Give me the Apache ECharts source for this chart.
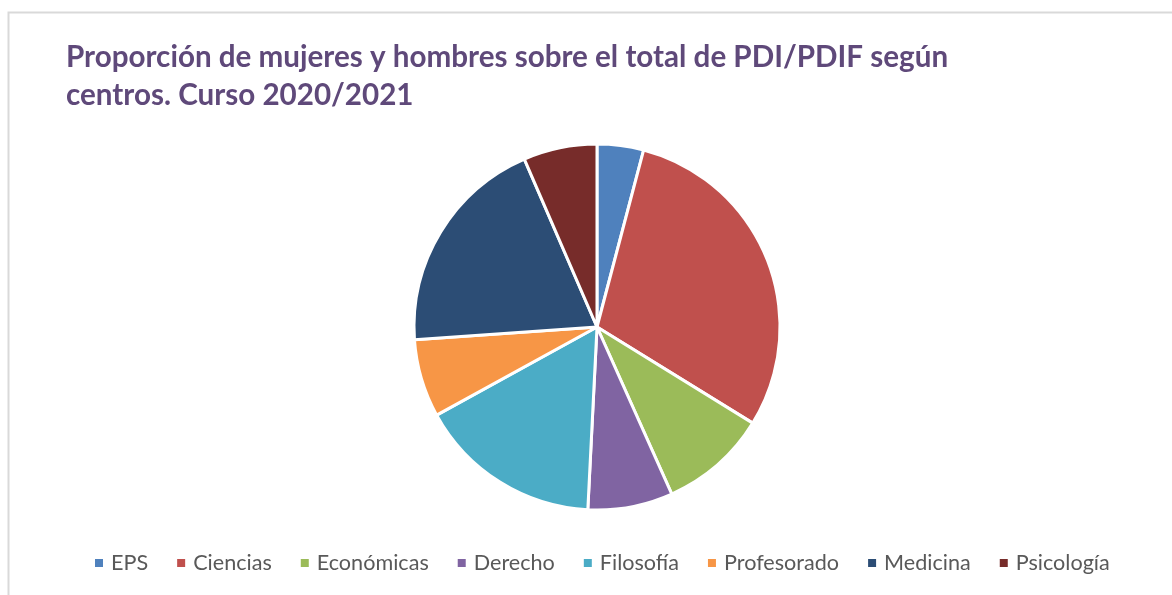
<!DOCTYPE html>
<html>
<head>
<meta charset="utf-8">
<script src="https://cdn.jsdelivr.net/npm/echarts@6/dist/echarts.min.js"></script>
<style>
  html,body{margin:0;padding:0;background:#ffffff;}
  #pie{width:1172px;height:595px;}
</style>
</head>
<body>
<div id="pie"></div>
<script>
// centros y su proporción (%)
const centros = ['EPS','Ciencias','Económicas','Derecho','Filosofía','Profesorado','Medicina','Psicología'];
const proporcion = [4.1, 29.7, 9.5, 7.5, 16.2, 6.9, 19.6, 6.5];
const colores = ['#4f81bd','#c0504d','#9bbb59','#8064a2','#4bacc6','#f79646','#2c4d75','#772c2a'];

const myChart = echarts.init(document.getElementById('pie'));

const datos = centros.map((c, i) => ({ name: c, value: proporcion[i] }));

const option = {
    color: colores,
    animation: false,
    title: {
        text: 'Proporción de mujeres y hombres sobre el total de PDI/PDIF según\ncentros. Curso 2020/2021',
        left: 61,
        top: 33,
        textStyle: {
            fontFamily: 'Lato',
            fontSize: 29.6,
            fontWeight: 'bold',
            color: '#5f497a',
            lineHeight: 38
        }
    },
    // marco gris del gráfico
    graphic: [{
        type: 'rect',
        shape: { x: 8.5, y: 12.5, width: 1300, height: 700 },
        style: { fill: 'none', stroke: '#d9d9d9', lineWidth: 2 },
        silent: true
    }],
    legend: {
        left: 88,
        top: 547,
        itemWidth: 10,
        itemHeight: 10,
        itemGap: 27,
        icon: 'rect',
        textStyle: {
            fontFamily: 'Lato',
            fontSize: 21.6,
            color: '#595959',
            padding: [0, 0, 0, 2]
        }
    },
    series: [{
        type: 'pie',
        center: [597, 327],
        radius: 183,
        startAngle: 90,
        clockwise: true,
        label: { show: false },
        labelLine: { show: false },
        itemStyle: { borderColor: '#ffffff', borderWidth: 3 },
        emphasis: { scale: false },
        data: datos
    }]
};

myChart.setOption(option);
</script>
</body>
</html>
